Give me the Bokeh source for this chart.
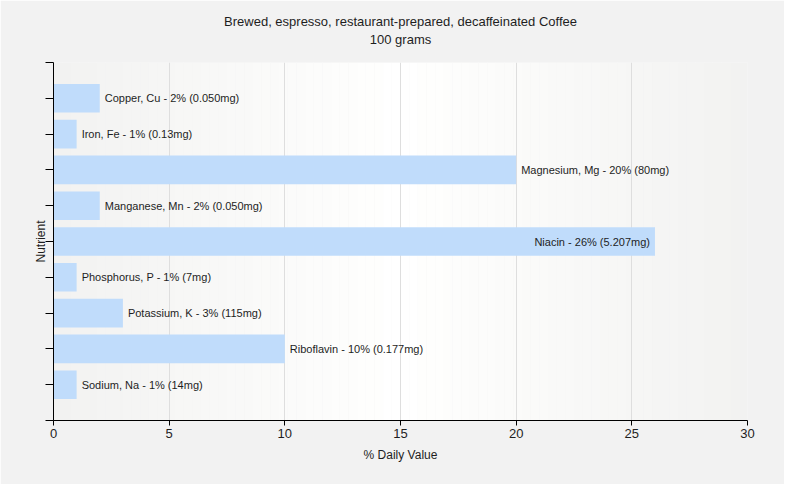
from bokeh.plotting import figure
from bokeh.models import FixedTicker, ColumnDataSource, Range1d, Title, CustomLabelingPolicy
from bokeh.core.properties import value
from bokeh.embed import file_html
from bokeh.resources import INLINE

title_text = "Brewed, espresso, restaurant-prepared, decaffeinated Coffee"
subtitle_text = "100 grams"
nutrients = ["Copper, Cu", "Iron, Fe", "Magnesium, Mg", "Manganese, Mn", "Niacin",
             "Phosphorus, P", "Potassium, K", "Riboflavin", "Sodium, Na"]
daily_pct = [2, 1, 20, 2, 26, 1, 3, 10, 1]
amounts = ["0.050mg", "0.13mg", "80mg", "0.050mg", "5.207mg", "7mg", "115mg", "0.177mg", "14mg"]
x_ticks = [0, 5, 10, 15, 20, 25, 30]
x_max = 30

FONT = "Liberation Sans"
TXT = "#1e1e1e"
n = len(nutrients)
ypos = [n - i for i in range(n)]
labels = [f"{nm} - {v}% ({a})" for nm, v, a in zip(nutrients, daily_pct, amounts)]
inside = [v > 24 for v in daily_pct]
src = ColumnDataSource(dict(
    y=ypos, v=daily_pct, label=labels,
    align=["right" if ins else "left" for ins in inside],
    xoff=[-5 if ins else 5 for ins in inside],
))

p = figure(width=784, height=484, output_backend="svg", toolbar_location=None,
           x_range=Range1d(0, x_max), y_range=Range1d(0, n + 1),
           min_border_left=53, min_border_right=37, min_border_top=62, min_border_bottom=64)
p.background_fill_color = "#f2f2f2"
p.border_fill_color = "#f2f2f2"
p.outline_line_color = None

# horizontal background gradient (decoration)
N = 80
xs0 = [x_max * i / N for i in range(N)]
xs1 = [x_max * (i + 1) / N for i in range(N)]
cols = []
for i in range(N):
    t = (i + 0.5) / N
    c = int(round(242 + 13 * (1 - abs(2 * t - 1))))
    cols.append("#%02x%02x%02x" % (c, c, c - 1 if c < 255 else c))
p.quad(left=xs0, right=xs1, bottom=0, top=n + 1, fill_color=cols, line_color=None, level="image")

p.title.visible = False
sub = Title(text=subtitle_text, align="center", text_font=FONT, text_font_size="13px",
            text_font_style="normal", text_color=TXT, standoff=32)
main = Title(text=title_text, align="center", text_font=FONT, text_font_size="13px",
             text_font_style="normal", text_color=TXT, standoff=-30)
p.add_layout(sub, "above")
p.add_layout(main, "above")

p.hbar(y="y", right="v", left=0, height=0.8, source=src, fill_color="#c0dcfb", line_color=None)
p.text(x="v", y="y", text="label", text_align="align", x_offset="xoff", text_baseline="middle",
       source=src, text_font=value(FONT), text_font_size="11px", text_color=TXT)

p.ygrid.grid_line_color = None
p.xgrid.grid_line_color = "#dedede"
p.xgrid.ticker = FixedTicker(ticks=x_ticks)

p.xaxis.ticker = FixedTicker(ticks=x_ticks)
p.xaxis.axis_label = "% Daily Value"
p.yaxis.axis_label = "Nutrient"
p.yaxis.ticker = FixedTicker(ticks=list(range(0, n + 2)))
p.yaxis.major_label_policy = CustomLabelingPolicy(code="for (const i of indices) indices.unset(i); return indices")
p.yaxis.major_tick_out = 8
p.yaxis.major_tick_in = 0
p.yaxis.axis_label_standoff = -23
p.xaxis.major_tick_out = 5
p.xaxis.major_tick_in = 0
p.xaxis.axis_label_standoff = 7
for ax in (p.xaxis, p.yaxis):
    ax.minor_tick_line_color = None
    ax.axis_line_color = "black"
    ax.major_tick_line_color = "black"
    ax.axis_label_text_font = FONT
    ax.axis_label_text_font_size = "12px"
    ax.axis_label_text_font_style = "normal"
    ax.axis_label_text_color = TXT
    ax.major_label_text_font = FONT
    ax.major_label_text_color = TXT
p.xaxis.major_label_text_font_size = "13px"
p.xaxis.major_label_standoff = 3

open("out.html", "w").write(file_html(p, INLINE))
